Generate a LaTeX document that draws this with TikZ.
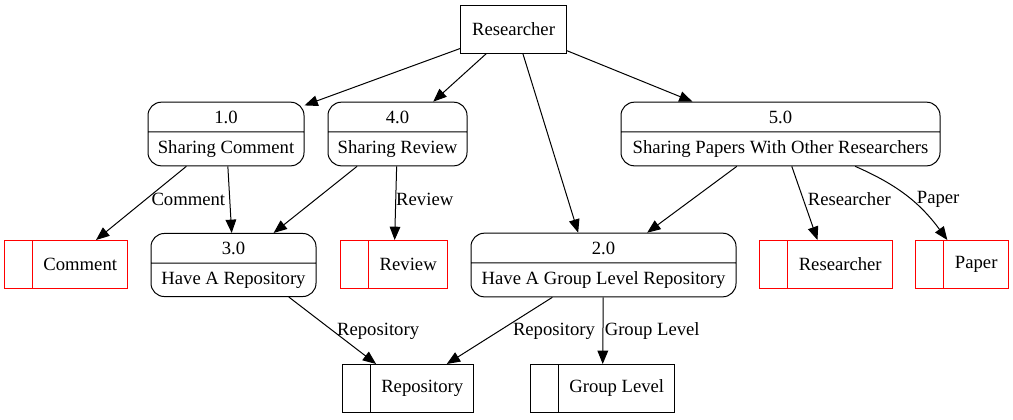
\documentclass[tikz,border=0pt]{standalone}
\usepackage{fontspec}
\setmainfont{Liberation Serif}
\usetikzlibrary{shapes.multipart,arrows.meta}

\begin{document}
\begin{tikzpicture}[x=0.75pt, y=-0.75pt, line width=0.75pt, font=\fontsize{14}{16.8}\selectfont,
  ext/.style = {draw, minimum width=79.5pt, minimum height=36pt, inner sep=0pt},
  proc/.style = {draw, rounded corners=10pt, rectangle split, rectangle split parts=2, inner ysep=6pt, inner xsep=0pt},
  store/.style = {draw=red, rectangle split, rectangle split horizontal, rectangle split parts=2, rectangle split empty part width=0pt, inner xsep=8pt, minimum height=36pt},
  flow/.style = {-{Triangle[length=10pt, width=8pt]}},
  lbl/.style = {anchor=west, inner sep=0pt}]
\useasboundingbox (0,0) rectangle (1013,419);
\node[ext] (res) at (513.5,29) {Researcher};
% processes
\node[proc, minimum width=117pt] (p1) at (226,134) {1.0 \nodepart{two} Sharing Comment};
\node[proc, minimum width=104.25pt] (p4) at (397.5,134) {4.0 \nodepart{two} Sharing Review};
\node[proc, minimum width=239.25pt] (p5) at (780.5,134) {5.0 \nodepart{two} Sharing Papers With Other Researchers};
\node[proc, minimum width=123.75pt] (p3) at (233.5,265) {3.0 \nodepart{two} Have A Repository};
\node[proc, minimum width=198.75pt] (p2) at (603.5,265) {2.0 \nodepart{two} Have A Group Level Repository};
% data stores
\node[store] (comment) at (66,264.5) {\nodepart{two}Comment};
\node[store] (review) at (394,264.5) {\nodepart{two}Review};
\node[store] (rstore) at (826,264.5) {\nodepart{two}Researcher};
\node[store] (paper) at (962,264.5) {\nodepart{two}Paper};
\node[store, draw=black] (repo) at (408,388.5) {\nodepart{two}Repository};
\node[store, draw=black] (glevel) at (602.5,388.5) {\nodepart{two}Group Level};
% flows
\draw[flow] (res) -- (p1);
\draw[flow] (res) -- (p4);
\draw[flow] ([xshift=7pt]res.south) -- ([xshift=-19pt]p2.north);
\draw[flow] (res) -- ([xshift=-66pt]p5.north);
\draw[flow] (p1) -- (comment) node[lbl, pos=0.45, xshift=4pt] {Comment};
\draw[flow] (p1) -- (p3);
\draw[flow] (p4) -- (p3);
\draw[flow] (p4) -- (review) node[lbl, pos=0.45] {Review};
\draw[flow] (p5) -- (p2);
\draw[flow] (p5) -- (rstore) node[lbl, pos=0.45, xshift=3pt] {Researcher};
\draw[flow] ([xshift=56pt]p5.south) to[bend left=15] node[lbl, pos=0.55, xshift=4pt] {Paper} ([xshift=-11pt]paper.north);
\draw[flow] ([xshift=41.5pt]p3.south) -- (repo) node[lbl, pos=0.51, xshift=2.5pt] {Repository};
\draw[flow] (p2) -- (repo) node[lbl, pos=0.51, xshift=10.5pt] {Repository};
\draw[flow] (p2) -- (glevel) node[lbl, pos=0.51, xshift=1pt] {Group Level};
\end{tikzpicture}
\end{document}
